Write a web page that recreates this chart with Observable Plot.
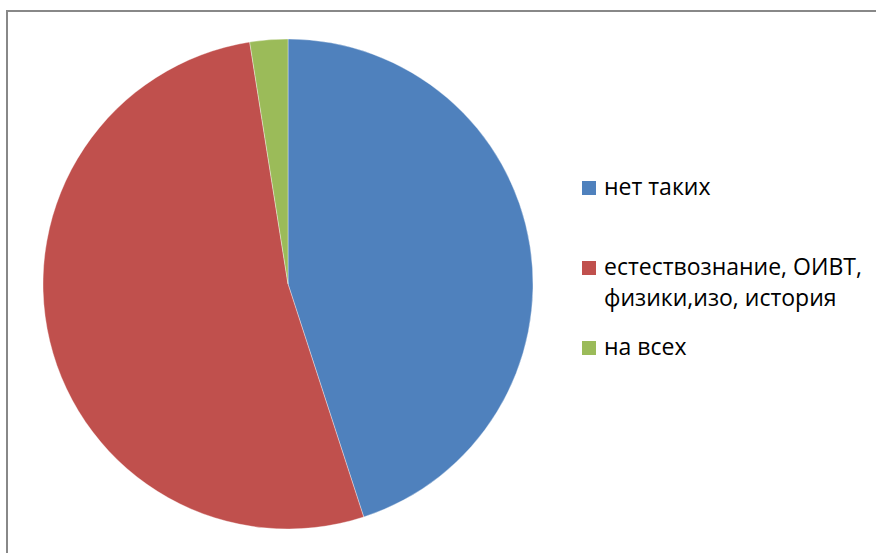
<!DOCTYPE html>
<html><head><meta charset="utf-8">
<script src="https://cdn.jsdelivr.net/npm/d3@7"></script>
<script src="https://cdn.jsdelivr.net/npm/@observablehq/plot@0.6"></script>
<style>
html,body{margin:0;padding:0;background:#fff;}
#wrap{position:relative;width:876px;height:553px;overflow:hidden;background:#fff;}
#border{position:absolute;left:6px;top:10px;width:900px;height:600px;border-left:2px solid #888;border-top:2px solid #888;}
#chart{position:absolute;left:0;top:0;}
.item{position:absolute;left:582px;font-family:"Open Sans",sans-serif;font-size:23px;line-height:31px;color:#000;white-space:nowrap;}
.item .sw{position:absolute;left:0;top:10px;width:14px;height:14px;}
.item .tx{position:absolute;left:22px;top:0;}
</style>
</head><body>
<div id="wrap"><div id="border"></div><div id="chart"></div><div id="legend"></div></div>
<script>
const categories = ["нет таких", "естествознание, ОИВТ, физики,изо, история", "на всех"];
const legendLines = [["нет таких"], ["естествознание, ОИВТ,", "физики,изо, история"], ["на всех"]];
const values = [18, 21, 1];
const colors = ["#4F81BD", "#C0504D", "#9BBB59"];

const data = categories.map((c, i) => ({category: c, value: values[i]}));
const colorScale = Plot.scale({color: {type: "ordinal", domain: categories, range: colors}});

const W = 876, H = 553;
const cx = 288, cy = 284, R = 245;

const pieMark = (index, scales, vals, dims) => {
  const g = d3.create("svg:g");
  const arcs = d3.pie().sort(null).value(d => d.value)(data);
  const arc = d3.arc().innerRadius(0).outerRadius(R);
  g.attr("transform", `translate(${cx},${cy})`)
    .selectAll("path").data(arcs).join("path")
    .attr("d", arc)
    .attr("fill", d => colorScale.apply(d.data.category))
    .attr("stroke", "#ffffff")
    .attr("stroke-width", 0.6)
    .attr("stroke-opacity", 0.6);
  return g.node();
};

const chart = Plot.plot({
  width: W, height: H,
  margin: 0,
  x: {axis: null, domain: [0, W], range: [0, W]},
  y: {axis: null, domain: [0, H], range: [0, H]},
  style: {background: "transparent"},
  marks: [pieMark]
});
document.getElementById("chart").appendChild(chart);

const legendTops = [171, 251, 331];
const legend = d3.select("#legend");
legendLines.forEach((lines, i) => {
  const it = legend.append("div").attr("class", "item").style("top", legendTops[i] + "px");
  it.append("div").attr("class", "sw").style("background", colorScale.apply(categories[i]));
  it.append("div").attr("class", "tx").html(lines.join("<br>"));
});
</script>
</body></html>
